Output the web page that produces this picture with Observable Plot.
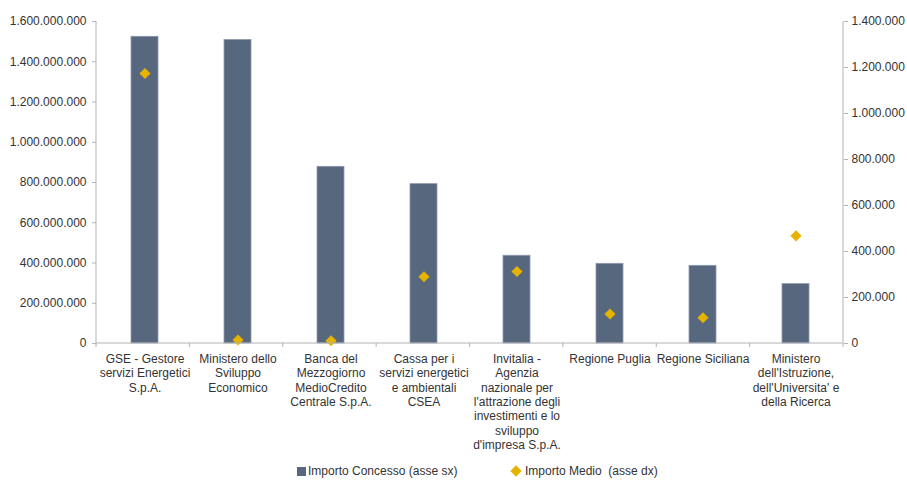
<!DOCTYPE html>
<html><head><meta charset="utf-8">
<script src="https://cdn.jsdelivr.net/npm/d3@7"></script>
<script src="https://cdn.jsdelivr.net/npm/@observablehq/plot@0.6"></script>
<style>
body{margin:0;background:#fff;font-family:"Liberation Sans",Arial,Helvetica,sans-serif;}
#chart{width:907px;height:462px;}
#legend{position:relative;width:907px;height:18px;font-size:12px;color:#333;line-height:18px;}
.item{position:absolute;top:0;display:flex;align-items:center;height:18px;white-space:pre;}
.sq{width:9px;height:9px;background:#57677d;margin-right:2px;}
.dm{width:8px;height:8px;background:#e6b400;transform:rotate(45deg);margin:0 5px 0 2px;}
</style></head><body>
<div id="chart"></div>
<div id="legend">
  <div class="item" style="left:297px"><span class="sq"></span><span id="lab0"></span></div>
  <div class="item" style="left:510px"><span class="dm"></span><span id="lab1"></span></div>
</div>
<script>
const categories = [
  "GSE - Gestore servizi Energetici S.p.A.",
  "Ministero dello Sviluppo Economico",
  "Banca del Mezzogiorno MedioCredito Centrale S.p.A.",
  "Cassa per i servizi energetici e ambientali CSEA",
  "Invitalia - Agenzia nazionale per l'attrazione degli investimenti e lo sviluppo d'impresa S.p.A.",
  "Regione Puglia",
  "Regione Siciliana",
  "Ministero dell'Istruzione, dell'Universita' e della Ricerca"
];
const tickLabels = [
  "GSE - Gestore\nservizi Energetici\nS.p.A.",
  "Ministero dello\nSviluppo\nEconomico",
  "Banca del\nMezzogiorno\nMedioCredito\nCentrale S.p.A.",
  "Cassa per i\nservizi energetici\ne ambientali\nCSEA",
  "Invitalia -\nAgenzia\nnazionale per\nl'attrazione degli\ninvestimenti e lo\nsviluppo\nd'impresa S.p.A.",
  "Regione Puglia",
  "Regione Siciliana",
  "Ministero\ndell'Istruzione,\ndell'Universita' e\ndella Ricerca"
];
const importoConcesso = [1524e6, 1508e6, 878e6, 792e6, 436e6, 396e6, 386e6, 295e6];
const importoMedio = [1174000, 15000, 12000, 290000, 313000, 128000, 112000, 468000];
const leftTicks = [0, 2e8, 4e8, 6e8, 8e8, 10e8, 12e8, 14e8, 16e8];
const rightTicks = [0, 2e5, 4e5, 6e5, 8e5, 10e5, 12e5, 14e5];
const seriesNames = ["Importo Concesso (asse sx)", "Importo Medio  (asse dx)"];
const leftMax = 1.6e9, rightMax = 1.4e6;
const k = leftMax / rightMax;

document.getElementById("lab0").textContent = seriesNames[0];
document.getElementById("lab1").textContent = seriesNames[1];

const itFmt = d3.formatLocale({decimal: ",", thousands: ".", grouping: [3], currency: ["€", ""]}).format(",.0f");
const data = categories.map((c, i) => ({cat: c, concesso: importoConcesso[i], medio: importoMedio[i]}));
const axisColor = "#b3b3b3";

function axisLines(index, scales, values, dims) {
  const {width, marginLeft, marginRight, marginTop} = dims;
  const x0 = marginLeft, x1 = width - marginRight, yb = scales.y(0);
  const g = d3.create("svg:g").attr("stroke", axisColor).attr("fill", "none").attr("stroke-width", 1);
  g.append("line").attr("x1", x0).attr("x2", x0).attr("y1", marginTop).attr("y2", yb);
  g.append("line").attr("x1", x1).attr("x2", x1).attr("y1", marginTop).attr("y2", yb);
  g.append("line").attr("x1", x0).attr("x2", x1).attr("y1", yb).attr("y2", yb);
  const step = (x1 - x0) / categories.length;
  for (let i = 0; i <= categories.length; i++) {
    const xx = x0 + i * step;
    g.append("line").attr("x1", xx).attr("x2", xx).attr("y1", yb).attr("y2", yb + 4);
  }
  return g.node();
}

const chart = Plot.plot({
  width: 907,
  height: 462,
  marginTop: 21,
  marginBottom: 119,
  marginLeft: 96,
  marginRight: 64,
  style: {fontSize: "12px", fontFamily: "Liberation Sans, Arial, Helvetica, sans-serif", color: "#333", background: "#fff"},
  x: {domain: categories, paddingInner: 0.71, paddingOuter: 0.355, label: null},
  y: {domain: [0, leftMax], label: null},
  marks: [
    Plot.barY(data, {x: "cat", y: "concesso", fill: "#57677d", stroke: "#8d9bb0", strokeWidth: 0.8}),
    Plot.dot(data, {x: "cat", y: d => d.medio * k, symbol: "diamond2", fill: "#e6b400", stroke: "none", r: 5}),
    axisLines,
    Plot.axisY(leftTicks, {anchor: "left", tickFormat: itFmt, tickSize: 4, tickPadding: 6, stroke: axisColor, fill: "#333", label: null}),
    Plot.axisY(rightTicks.map(v => v * k), {anchor: "right", tickFormat: d => itFmt(Math.round(d / k)), tickSize: 4, tickPadding: 4, stroke: axisColor, fill: "#333", label: null}),
    Plot.axisX({tickSize: 0, tickPadding: 9, tickFormat: d => tickLabels[categories.indexOf(d)], lineHeight: 1.2, fill: "#333", label: null})
  ]
});
document.getElementById("chart").appendChild(chart);
</script>
</body></html>
